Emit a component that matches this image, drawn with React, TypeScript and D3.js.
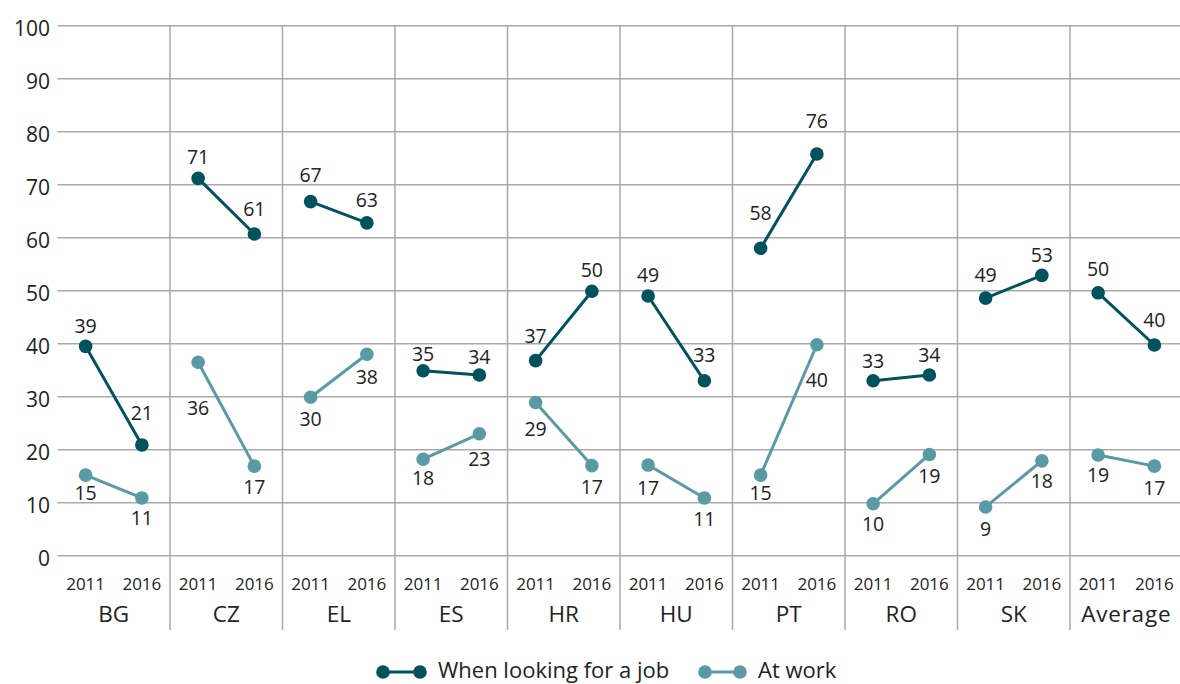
import React from "react";
import * as d3 from "d3";

const categories = ["BG", "CZ", "EL", "ES", "HR", "HU", "PT", "RO", "SK", "Average"];
const years = ["2011", "2016"];
const yTicks = [0, 10, 20, 30, 40, 50, 60, 70, 80, 90, 100];

const lookingValues = [
  [39.5, 20.9], [71.2, 60.7], [66.8, 62.8], [34.9, 34.1], [36.8, 49.9],
  [49.0, 33.0], [58.0, 75.8], [33.0, 34.1], [48.6, 52.9], [49.6, 39.75],
];
const lookingLabels = [
  [39, 21], [71, 61], [67, 63], [35, 34], [37, 50],
  [49, 33], [58, 76], [33, 34], [49, 53], [50, 40],
];
const workValues = [
  [15.2, 10.9], [36.5, 16.9], [29.9, 38.0], [18.2, 23.0], [28.9, 17.0],
  [17.1, 10.9], [15.2, 39.8], [9.8, 19.1], [9.2, 17.9], [19.0, 16.9],
];
const workLabels = [
  [15, 11], [36, 17], [30, 38], [18, 23], [29, 17],
  [17, 11], [15, 40], [10, 19], [9, 18], [19, 17],
];

// label baseline offsets relative to point (layout)
const lookingLabelDy = [
  [-13, -25], [-14, -18], [-20, -16], [-10, -11], [-18, -14],
  [-14, -19], [-28, -26], [-13, -13], [-16, -13], [-17, -18],
];
const workLabelDy = [
  [25, 27], [53, 28], [29, 30], [26, 32], [33, 28],
  [30, 28], [25, 42], [27, 29], [29, 27], [27, 29],
];

const W = 1180;
const H = 684;
const left = 57.5;
const right = 1182.5;
const top = 25.7;
const bottom = 555.7;
const gridBottom = 630;

const darkColor = "#00525c";
const lightColor = "#5a9aa5";
const gridColor = "#a9a9a9";
const textColor = "#222";
const font = "'Open Sans', sans-serif";

export default function App() {
  const x = d3.scaleBand<string>().domain(categories).range([left, right]).padding(0);
  const xi = d3.scalePoint<string>().domain(years).range([0, x.bandwidth()]).padding(0.5);
  const y = d3.scaleLinear().domain([0, 100]).range([bottom, top]);
  const line = d3.line<[number, number]>().x((d) => d[0]).y((d) => d[1]);

  const series = [
    { values: lookingValues, labels: lookingLabels, dy: lookingLabelDy, color: darkColor },
    { values: workValues, labels: workLabels, dy: workLabelDy, color: lightColor },
  ];

  return (
    <svg width={W} height={H} style={{ position: "absolute", left: 0, top: 0 }} fontFamily={font}>
      <rect x={0} y={0} width={W} height={H} fill="#fff" />
      {yTicks.map((t) => (
        <g key={t}>
          <line x1={left} x2={W} y1={y(t)} y2={y(t)} stroke={gridColor} strokeWidth={1.5} />
          <text x={50} y={y(t) + 10} textAnchor="end" fontSize={21} fill={textColor}>{t}</text>
        </g>
      ))}
      {categories.slice(1).map((c) => (
        <line key={c} x1={x(c)!} x2={x(c)!} y1={top} y2={gridBottom} stroke={gridColor} strokeWidth={1.5} />
      ))}
      {categories.map((c) => (
        <g key={c}>
          {years.map((yr) => (
            <text key={yr} x={x(c)! + xi(yr)!} y={590} textAnchor="middle" fontSize={17} fill={textColor}>{yr}</text>
          ))}
          <text x={x(c)! + x.bandwidth() / 2} y={621.5} textAnchor="middle" fontSize={22.5} fill={textColor} letterSpacing={c === "Average" ? 0.8 : 0}>{c}</text>
        </g>
      ))}
      {series.map((s, si) => (
        <g key={si}>
          {categories.map((c, ci) => {
            const pts: [number, number][] = years.map((yr, yi) => [x(c)! + xi(yr)!, y(s.values[ci][yi])]);
            return (
              <g key={c}>
                <path d={line(pts)!} stroke={s.color} strokeWidth={3} fill="none" />
                {pts.map((p, yi) => (
                  <circle key={yi} cx={p[0]} cy={p[1]} r={6.8} fill={s.color} />
                ))}
                {pts.map((p, yi) => (
                  <text key={"t" + yi} x={p[0]} y={p[1] + s.dy[ci][yi]} textAnchor="middle" fontSize={19.5} fill={textColor}>
                    {s.labels[ci][yi]}
                  </text>
                ))}
              </g>
            );
          })}
        </g>
      ))}
      <g>
        <line x1={383} x2={420} y1={672} y2={672} stroke={darkColor} strokeWidth={3} />
        <circle cx={383} cy={672} r={6.8} fill={darkColor} />
        <circle cx={420} cy={672} r={6.8} fill={darkColor} />
        <text x={438} y={678} fontSize={22} fill={textColor}>When looking for a job</text>
        <line x1={705} x2={740} y1={672} y2={672} stroke={lightColor} strokeWidth={3} />
        <circle cx={705} cy={672} r={6.8} fill={lightColor} />
        <circle cx={740} cy={672} r={6.8} fill={lightColor} />
        <text x={758} y={678} fontSize={22} fill={textColor}>At work</text>
      </g>
    </svg>
  );
}
